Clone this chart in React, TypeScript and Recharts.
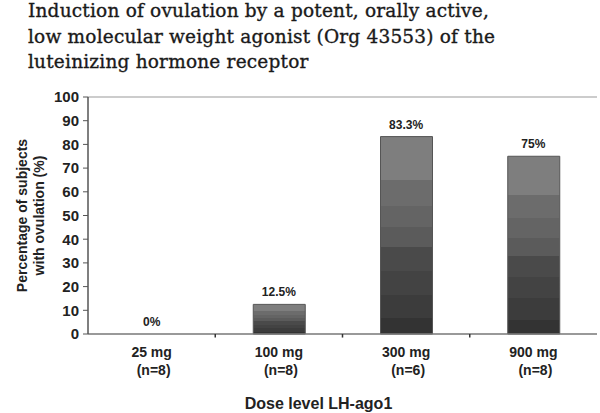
import { ComposedChart, Bar, Line, XAxis, YAxis, LabelList, Label, ReferenceLine } from "recharts";

const doses = ["25 mg", "100 mg", "300 mg", "900 mg"];
const groupSizes = ["(n=8)", "(n=8)", "(n=6)", "(n=8)"];
const ovulationPct = [0, 12.5, 83.3, 75];
const pctLabels = ["0%", "12.5%", "83.3%", "75%"];
const yTicks = [0, 10, 20, 30, 40, 50, 60, 70, 80, 90, 100];
const boundaryTicks = [1, 2, 3];

const data = doses.map((dose, i) => ({
  dose,
  n: groupSizes[i],
  pct: ovulationPct[i],
  label: pctLabels[i],
  idx: i + 0.5,
}));

const bands = [
  [0, 0.22, "#7e7e7e"],
  [0.22, 0.35, "#6c6c6c"],
  [0.35, 0.46, "#646464"],
  [0.46, 0.56, "#5b5b5b"],
  [0.56, 0.68, "#4a4a4a"],
  [0.68, 0.8, "#434343"],
  [0.8, 0.92, "#3c3c3c"],
  [0.92, 1, "#333333"],
] as const;

const font = "'Liberation Sans', Arial, sans-serif";

const DoseTick = (props: any) => {
  const { x, y, payload, index } = props;
  return (
    <g>
      <text x={x} y={y + 15} textAnchor="middle" fontFamily={font} fontWeight="bold" fontSize={14} fill="#222">
        {payload.value}
      </text>
      <text x={x + 2} y={y + 33} textAnchor="middle" fontFamily={font} fontWeight="bold" fontSize={14} fill="#222">
        {groupSizes[index]}
      </text>
    </g>
  );
};

const YTitle = (props: any) => {
  const vb = props.viewBox;
  const cy = vb.y + vb.height / 2;
  return (
    <text transform={`translate(0, ${cy}) rotate(-90)`} textAnchor="middle" fontFamily={font} fontWeight="bold" fontSize={14} fill="#222">
      <tspan x={0} y={27}>Percentage of subjects</tspan>
      <tspan x={0} y={44}>with ovulation (%)</tspan>
    </text>
  );
};

const PctLabel = (props: any) => {
  const { x, y, value } = props;
  return (
    <text x={x} y={y - 8} textAnchor="middle" fontFamily={font} fontWeight="bold" fontSize={12} fill="#222">
      {value}
    </text>
  );
};

export default function App() {
  return (
    <div style={{ position: "absolute", left: 0, top: 0, width: 600, height: 413, background: "#fff" }}>
      <div
        style={{
          position: "absolute",
          left: 28,
          top: -2,
          fontFamily: "'DejaVu Serif', serif",
          fontSize: 18.5,
          lineHeight: "25.5px",
          color: "#1a1a1a",
          letterSpacing: 0.2,
          WebkitTextStroke: "0.35px #1a1a1a",
          whiteSpace: "nowrap",
        }}
      >
        Induction of ovulation by a potent, orally active,
        <br />
        low molecular weight agonist (Org 43553) of the
        <br />
        luteinizing hormone receptor
      </div>
      <ComposedChart width={600} height={413} data={data} margin={{ top: 97, right: 3, bottom: 4, left: 0 }}>
        <defs>
          <linearGradient id="barFill" x1="0" y1="0" x2="0" y2="1">
            {bands.flatMap(([a, b, c], i) => [
              <stop key={`a${i}`} offset={a} stopColor={c} />,
              <stop key={`b${i}`} offset={b} stopColor={c} />,
            ])}
          </linearGradient>
        </defs>
        <XAxis xAxisId="bounds" type="number" dataKey="idx" domain={[0, 4]} height={0} hide />
        <XAxis
          xAxisId="cat"
          dataKey="dose"
          tick={<DoseTick />}
          tickLine={false}
          axisLine={false}
          interval={0}
          height={75}
        >
          <Label
            value="Dose level LH-ago1"
            position="insideBottom"
            dx={-24}
            offset={0}
            style={{ fontFamily: font, fontWeight: "bold", fontSize: 16, fill: "#222" }}
          />
        </XAxis>
        <YAxis
          domain={[0, 100]}
          ticks={yTicks}
          width={88}
          tickSize={5}
          tickMargin={4}
          tick={{ fontFamily: font, fontWeight: "bold", fontSize: 15, fill: "#222" }}
          tickLine={{ stroke: "#555" }}
          axisLine={{ stroke: "#555", strokeWidth: 1.5 }}
          interval={0}
        >
          <Label content={<YTitle />} />
        </YAxis>
        <ReferenceLine xAxisId="cat" y={100} stroke="#999" strokeWidth={1} />
        <ReferenceLine xAxisId="cat" y={0} stroke="#777" strokeWidth={1.5} />
        {boundaryTicks.map((b) => (
          <ReferenceLine
            key={b}
            xAxisId="bounds"
            segment={[
              { x: b, y: 0 },
              { x: b, y: -1.5 },
            ]}
            ifOverflow="visible"
            stroke="#333"
            strokeWidth={1.5}
          />
        ))}
        <Bar
          xAxisId="cat"
          dataKey="pct"
          barSize={52}
          fill="url(#barFill)"
          stroke="#555"
          strokeWidth={1}
          isAnimationActive={false}
        />
        <Line
          xAxisId="cat"
          dataKey="pct"
          stroke="none"
          dot={false}
          activeDot={false}
          isAnimationActive={false}
        >
          <LabelList dataKey="label" content={<PctLabel />} />
        </Line>
      </ComposedChart>
    </div>
  );
}
